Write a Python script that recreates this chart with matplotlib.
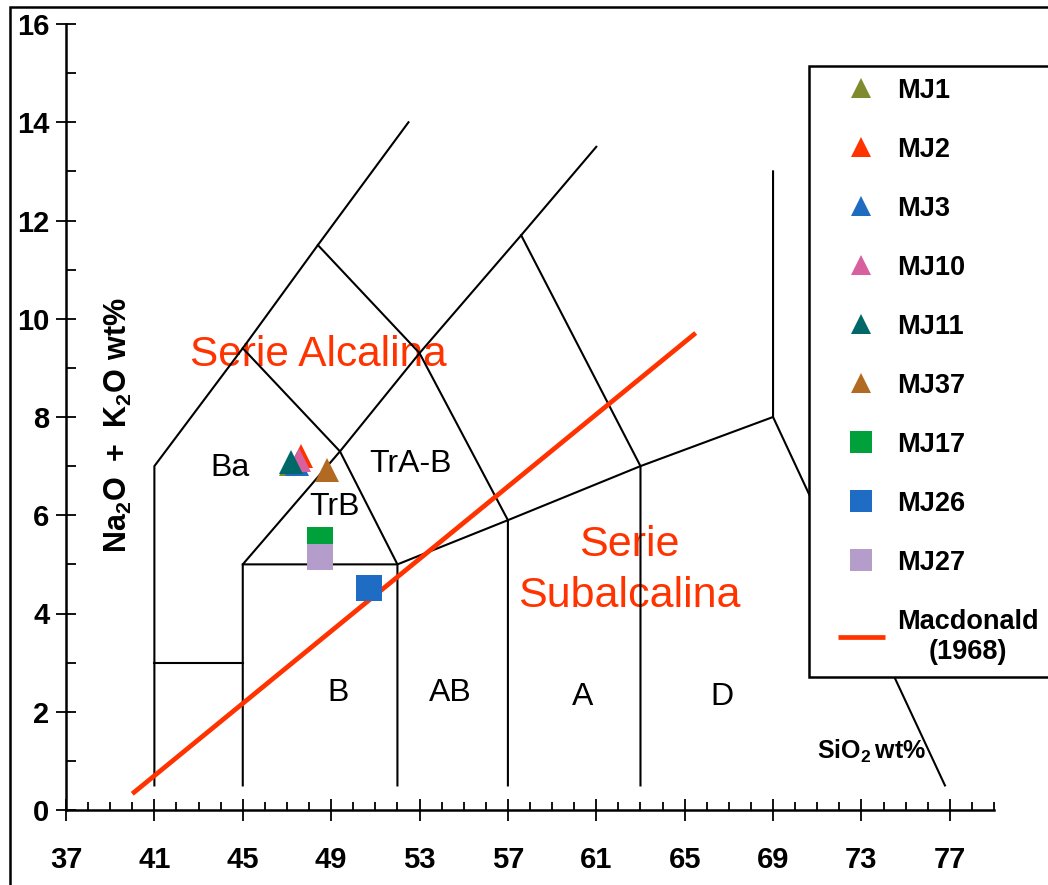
import numpy as np
import matplotlib
matplotlib.use("Agg")
from matplotlib import pyplot as plt
from matplotlib.patches import Rectangle
from matplotlib.ticker import FixedLocator, MultipleLocator

plt.rcParams['font.family'] = ['Liberation Sans', 'DejaVu Sans']
plt.rcParams['mathtext.fontset'] = 'custom'
plt.rcParams['mathtext.rm'] = 'Liberation Sans'
plt.rcParams['mathtext.bf'] = 'Liberation Sans:bold'

#######################################
# Data
#######################################

# samples (SiO2, Na2O+K2O)
samples = ['MJ1', 'MJ2', 'MJ3', 'MJ10', 'MJ11', 'MJ37', 'MJ17', 'MJ26', 'MJ27']
sio2 = [47.2, 47.65, 47.45, 47.56, 47.17, 48.8, 48.51, 50.73, 48.51]
alk = [7.05, 7.21, 7.04, 7.13, 7.08, 6.93, 5.50, 4.51, 5.15]
markers = ['^', '^', '^', '^', '^', '^', 's', 's', 's']
colors = ['#808a2e', '#ff3300', '#1f6bc0', '#d8609e', '#006868', '#b26a22',
          '#00a03a', '#1e6cc4', '#b49ccb']

# Macdonald (1968) alkaline / subalkaline divide
mac_x = [40.0, 65.5]
mac_y = [0.33, 9.71]

# TAS field boundaries (polylines)
tas_lines = [
    ([41, 41, 45, 48.4, 52.5], [0.5, 7, 9.4, 11.5, 14]),
    ([41, 45], [3, 3]),
    ([45, 45, 49.4, 53, 57.6, 61], [0.5, 5, 7.3, 9.3, 11.7, 13.5]),
    ([45, 49.4, 52, 52], [9.4, 7.3, 5, 0.5]),
    ([45, 52, 57, 63, 69, 69], [5, 5, 5.9, 7, 8, 13]),
    ([48.4, 53, 57, 57], [11.5, 9.3, 5.9, 0.5]),
    ([57.6, 63, 63], [11.7, 7, 0.5]),
    ([69, 76.78], [8, 0.5]),
]

# field labels
field_names = ['Ba', 'TrA-B', 'TrB', 'B', 'AB', 'A', 'D']
field_x = [44.4, 52.57, 49.17, 49.3, 54.4, 60.4, 66.7]
field_y = [6.97, 7.05, 6.17, 2.38, 2.38, 2.30, 2.30]

x_ticks = [37, 41, 45, 49, 53, 57, 61, 65, 69, 73, 77]

#######################################
# Plot
#######################################

W, H = 1048, 885
fig = plt.figure(figsize=(W / 100, H / 100), dpi=100)
ax = fig.add_axes([66 / W, 75 / H, 928 / W, 786 / H])

for xs, ys in tas_lines:
    ax.plot(xs, ys, color='black', lw=1.5, zorder=2)

mac, = ax.plot(mac_x, mac_y, color='#ff3300', lw=3.4, solid_capstyle='butt',
               zorder=3, label='Macdonald\n(1968)')

handles = []
for i in range(len(samples)):
    ms = 19.4 if markers[i] == 's' else 17
    h, = ax.plot(sio2[i], alk[i], linestyle='none', marker=markers[i], ms=ms,
                 color=colors[i], mew=0, zorder=4, label=samples[i])
    handles.append(h)
handles.append(mac)

for name, fx, fy in zip(field_names, field_x, field_y):
    ax.text(fx, fy, name, fontsize=23, ha='center', va='center', zorder=1)

ax.text(48.4, 9.27, 'Serie Alcalina', color='#ff3300', fontsize=30.5,
        ha='center', va='center', zorder=1)
ax.text(62.5, 4.88, 'Serie\nSubalcalina', color='#ff3300', fontsize=31,
        ha='center', va='center', linespacing=1.35, zorder=1)

ax.text(73.47, 1.2, r'$\mathbf{SiO_2\,wt\%}$', fontsize=18,
        ha='center', va='center')
ax.text(0.057, 0.49, r'$\mathbf{Na_2O\ +\ K_2O\ wt\%}$', fontsize=22,
        rotation=90, ha='center', va='center', transform=ax.transAxes)

ax.set_xlim(37, 79)
ax.set_ylim(0, 16)
ax.xaxis.set_major_locator(FixedLocator(x_ticks))
ax.xaxis.set_minor_locator(MultipleLocator(1))
ax.yaxis.set_major_locator(MultipleLocator(2))
ax.yaxis.set_minor_locator(MultipleLocator(1))
ax.spines['top'].set_visible(False)
ax.spines['right'].set_visible(False)
ax.spines['left'].set_linewidth(1.8)
ax.spines['bottom'].set_linewidth(1.8)
ax.tick_params(axis='x', which='major', direction='inout', length=16,
               width=1.3, pad=18)
ax.tick_params(axis='x', which='minor', direction='in', length=6, width=1.3)
ax.tick_params(axis='y', which='major', direction='inout', length=14,
               width=1.3, pad=5)
ax.tick_params(axis='y', which='minor', direction='in', length=7, width=1.3)
for lab in ax.get_xticklabels() + ax.get_yticklabels():
    lab.set_fontweight('bold')
    lab.set_fontsize(21)

# figure frame and legend box (both run off the right edge)
fig.add_artist(Rectangle((9.5 / W, -0.1), 1.2, (H - 7) / H + 0.1,
                         transform=fig.transFigure, fill=False,
                         ec='black', lw=1.8, zorder=3))
fig.add_artist(Rectangle((809 / W, (H - 677) / H), 0.3, (677 - 66) / H,
                         transform=fig.transFigure, fc='white',
                         ec='black', lw=1.8, zorder=4))

leg = fig.legend(handles=handles, loc='upper left',
                 bbox_to_anchor=(824 / W, (H - 64) / H), frameon=False,
                 borderpad=0, handlelength=1.75, handletextpad=0.45,
                 labelspacing=1.22, markerscale=0.85,
                 prop={'weight': 'bold', 'size': 19.5})
leg.set_zorder(5)
for t in leg.get_texts():
    t.set_multialignment('center')

fig.savefig('out.png', dpi=100)
